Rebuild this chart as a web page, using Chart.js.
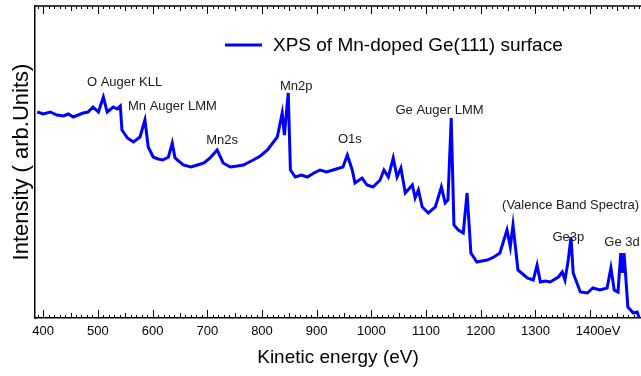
<!DOCTYPE html>
<html>
<head>
<meta charset="utf-8">
<script src="https://cdn.jsdelivr.net/npm/chart.js@4/dist/chart.umd.min.js"></script>
<style>
  html, body { margin: 0; padding: 0; background: #fff; }
  #wrap { width: 641px; height: 376px; position: relative; }
</style>
</head>
<body>
<div id="wrap"><canvas id="xps"></canvas></div>
<script>
// kinetic energy (eV) and intensity (arb. units)
const energy = [389, 400, 413, 425, 437, 446, 455, 464, 473, 482, 491, 501, 510, 517, 528, 535, 541, 544, 554, 565, 577, 586, 592, 601,
  610, 619, 629, 636, 641, 656, 670, 682, 694, 705, 718, 729, 742, 755, 766, 784, 797, 810, 828, 837, 841, 848, 852, 861, 872, 883,
  895, 906, 918, 930, 948, 956, 965, 970, 983, 992, 1003, 1016, 1023, 1031, 1040, 1047, 1054, 1062, 1075, 1080,
  1086, 1093, 1104, 1117, 1128, 1135, 1140, 1146, 1151, 1159, 1168, 1175, 1182, 1193, 1202, 1212, 1224, 1235, 1248,
  1254, 1259, 1268, 1285, 1296, 1303, 1309, 1318, 1327, 1342, 1349, 1354, 1360, 1365, 1369, 1382, 1395, 1405,
  1418, 1431, 1438, 1444, 1451, 1456, 1459, 1462, 1469, 1479, 1486, 1491];
const intensity = [206, 204, 206, 203, 202, 204, 201, 203, 205, 206, 211, 206, 221, 206, 211, 209, 212, 188, 180, 176, 181, 198, 171, 161,
  159, 158, 161, 175, 160, 153, 151, 153, 155, 160, 168, 155, 151, 152, 153, 158, 162, 168, 181, 205, 183, 225, 148, 141, 143, 141,
  145, 148, 146, 148, 151, 163, 148, 135, 140, 133, 131, 138, 148, 141, 160, 141, 150, 125, 133, 120,
  128, 111, 105, 111, 131, 115, 118, 200, 93, 88, 85, 125, 65, 56, 57, 58, 61, 65, 88,
  71, 93, 48, 40, 38, 53, 36, 37, 36, 41, 46, 38, 58, 81, 45, 26, 25, 30,
  28, 30, 50, 28, 26, 65, 45, 65, 11, 5, 6, -2];

// bottom axis tick labels
const tickValues = [400, 500, 600, 700, 800, 900, 1000, 1100, 1200, 1300, 1400];
const tickLabels = ['400', '500', '600', '700', '800', '900', '1000', '1100', '1200', '1300', '1400eV'];

// peak labels and where they sit (eV, intensity)
const peakNames = ['O Auger KLL', 'Mn Auger LMM', 'Mn2s', 'Mn2p', 'O1s', 'Ge Auger LMM',
  '(Valence Band Spectra)', 'Ge3p', 'Ge 3d'];
const peakLabelE = [480, 555, 698, 833, 939, 1044, 1239, 1331, 1426];
const peakLabelI = [236, 212, 178, 232, 179, 208, 113, 81, 76];

const FONT = 'Arial, "Liberation Sans", sans-serif';

// inward tick marks on bottom and top, top border line, tick labels, legend and peak labels
const decorations = {
  id: 'decorations',
  afterDatasetsDraw(chart) {
    const { ctx, chartArea: a, scales } = chart;
    const x = scales.x, y = scales.y;
    ctx.save();
    ctx.strokeStyle = '#000';
    ctx.lineWidth = 1.5;
    ctx.beginPath();
    ctx.moveTo(a.left, a.top);
    ctx.lineTo(a.right, a.top);
    ctx.stroke();
    ctx.lineWidth = 1;
    for (let v = 390; v <= 1490; v += 10) {
      const len = v % 100 === 0 ? 8 : v % 50 === 0 ? 5 : 3;
      const px = Math.round(x.getPixelForValue(v)) + 0.5;
      ctx.beginPath();
      ctx.moveTo(px, a.bottom);
      ctx.lineTo(px, a.bottom - len);
      ctx.moveTo(px, a.top);
      ctx.lineTo(px, a.top + len);
      ctx.stroke();
    }

    ctx.fillStyle = '#000';
    ctx.font = '13px ' + FONT;
    ctx.textBaseline = 'middle';
    ctx.textAlign = 'center';
    tickValues.forEach((v, i) => {
      const lbl = tickLabels[i];
      const px = x.getPixelForValue(v);
      // "1400eV" keeps the number centred on its tick
      if (lbl.endsWith('eV')) {
        ctx.textAlign = 'left';
        ctx.fillText(lbl, px - ctx.measureText(String(v)).width / 2, a.bottom + 13);
        ctx.textAlign = 'center';
      } else {
        ctx.fillText(lbl, px, a.bottom + 13);
      }
    });

    // legend
    ctx.strokeStyle = '#0000ff';
    ctx.lineWidth = 3;
    ctx.beginPath();
    ctx.moveTo(225, 45);
    ctx.lineTo(262, 45);
    ctx.stroke();
    ctx.font = '19px ' + FONT;
    ctx.textAlign = 'left';
    ctx.fillText(chart.data.datasets[0].label, 273, 46);

    ctx.font = '13px ' + FONT;
    ctx.fillStyle = '#1a1a1a';
    peakNames.forEach((name, i) => {
      ctx.fillText(name, x.getPixelForValue(peakLabelE[i]), y.getPixelForValue(peakLabelI[i]));
    });
    ctx.restore();
  }
};

new Chart(document.getElementById('xps'), {
  type: 'line',
  data: {
    datasets: [{
      label: 'XPS of Mn-doped Ge(111) surface',
      data: energy.map((e, i) => ({ x: e, y: intensity[i] })),
      borderColor: '#0000ff',
      borderWidth: 3,
      pointRadius: 0,
      tension: 0,
      fill: false,
    }]
  },
  options: {
    responsive: true,
    maintainAspectRatio: false,
    animation: false,
    layout: { padding: { top: 6, right: 0, left: 0, bottom: 0 } },
    plugins: { legend: { display: false }, tooltip: { enabled: false } },
    scales: {
      x: {
        type: 'linear',
        min: 385,
        max: 1493,
        afterFit: s => { s.height = 58; },
        grid: { display: false, drawTicks: false },
        border: { display: true, color: '#000', width: 1.5 },
        ticks: { display: false },
        title: {
          display: true,
          text: 'Kinetic energy (eV)',
          color: '#000',
          font: { family: FONT, size: 19 },
          padding: { top: 0, bottom: 7 },
        },
      },
      y: {
        min: 0,
        max: 312,
        afterFit: s => { s.width = 35; },
        grid: { display: false, drawTicks: false },
        border: { display: true, color: '#000', width: 1.5 },
        ticks: { display: false },
        title: {
          display: true,
          text: 'Intensity ( arb.Units)',
          color: '#000',
          font: { family: FONT, size: 22 },
          padding: { top: 9, bottom: 0 },
        },
      },
    },
  },
  plugins: [decorations],
});
</script>
</body>
</html>
